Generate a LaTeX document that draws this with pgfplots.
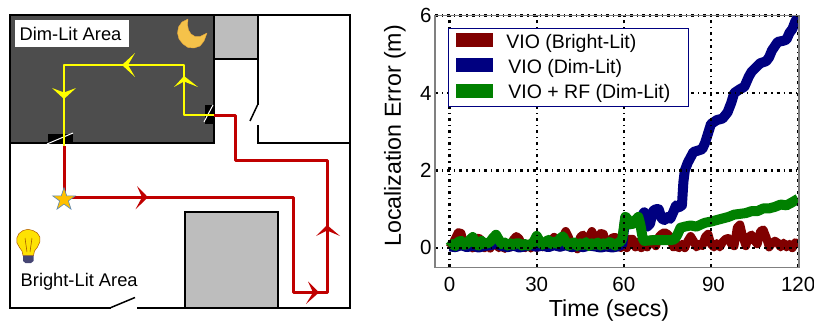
\documentclass[border=0pt]{standalone}
\usepackage{fontspec}
\setmainfont{Liberation Sans}
\usepackage{pgfplots}
\pgfplotsset{compat=1.18}
\definecolor{dimgray}{HTML}{4D4D4D}
\definecolor{boxgray}{HTML}{BDBDBD}
\definecolor{pathred}{HTML}{C00000}
\definecolor{pathyel}{HTML}{FFFF00}
\definecolor{cmaroon}{HTML}{800000}
\definecolor{cnavy}{HTML}{000080}
\definecolor{cgreen}{HTML}{008000}
\definecolor{moonfill}{HTML}{F5C24A}
\definecolor{moonedge}{HTML}{E9A93C}
\definecolor{starfill}{HTML}{FFC000}
\definecolor{staredge}{HTML}{5B88B5}
\begin{document}
\begin{tikzpicture}
\useasboundingbox (0,0) rectangle (814pt,321pt);
\begin{axis}[name=base,at={(0,0)},anchor=south west,scale only axis,width=814pt,height=321pt,
  xmin=0,xmax=814,ymin=0,ymax=321,y dir=reverse,hide axis,clip=false]
% rooms
\addplot[fill=dimgray,draw=black,line width=2pt] coordinates {(10,15)(213.5,15)(213.5,143)(10,143)} --cycle;
\addplot[fill=boxgray,draw=black,line width=2pt] coordinates {(213.5,15)(257.5,15)(257.5,59)(213.5,59)} --cycle;
\addplot[fill=boxgray,draw=black,line width=2pt] coordinates {(185,212)(278,212)(278,307.5)(185,307.5)} --cycle;
% walls
\addplot[black,line width=2pt] coordinates {(10,143)(10,307.5)(111,307.5)};
\addplot[black,line width=1.5pt] coordinates {(111,307.5)(135,297.5)};
\addplot[black,line width=2pt] coordinates {(137,307.5)(350,307.5)(350,15)(257.5,15)};
\addplot[black,line width=2pt] coordinates {(257.5,59)(257.5,105)};
\addplot[black,line width=1.5pt] coordinates {(257.5,105)(250,121)};
\addplot[black,line width=2pt] coordinates {(257.5,125)(257.5,143)(350,143)};
% doors
\addplot[fill=black,draw=none] coordinates {(48,133.5)(73,133.5)(73,143)(48,143)} --cycle;
\addplot[fill=black,draw=none] coordinates {(204.5,105)(215,105)(215,124)(204.5,124)} --cycle;
\addplot[white,line width=1pt] coordinates {(47,144)(73,133)};
\addplot[white,line width=1pt] coordinates {(204,122)(213,105)};
% red path
\addplot[pathred,line width=3pt,line join=round] coordinates {(214,115)(235,115)(235,160.5)(327,160.5)(327,292.5)(293,292.5)(293,197.3)(64,197.3)(64,146)};
% yellow path
\addplot[pathyel,line width=2.8pt,line join=round] coordinates {(214,115)(184,115)(184,65)(64,65)(64,146)};
% arrow heads
\addplot[fill=pathyel,draw=none] coordinates {(122,65)(135,53)(128,65)(135,77)} --cycle;
\addplot[fill=pathyel,draw=none] coordinates {(184,76)(174,87)(184,81.5)(198,87)} --cycle;
\addplot[fill=pathyel,draw=none] coordinates {(64,99)(52,88)(64,92.5)(76,88)} --cycle;
\addplot[fill=pathred,draw=none] coordinates {(148,197.3)(137,186)(142,197.3)(135.5,209.3)} --cycle;
\addplot[fill=pathred,draw=none] coordinates {(327,225)(316,236)(327,230.5)(340,236)} --cycle;
\addplot[fill=pathred,draw=none] coordinates {(319,292.5)(308,281.5)(313,292.5)(306,304)} --cycle;
% start star
\addplot[fill=starfill,draw=staredge,line width=0.6pt] coordinates {(64,187.5)(66.7,195.8)(75.4,195.8)(68.4,200.9)(71.05,209.2)(64,204.1)(56.95,209.2)(59.6,200.9)(52.6,195.8)(61.3,195.8)} --cycle;
% moon
\addplot[fill=moonfill,draw=moonedge,line width=0.4pt,line join=round] coordinates {(188,19)(182,22)(178.5,27)(177.5,33)(179,39)(183,44)(188,47.5)(194,48)(200,46)(204,41)(207,33)(200,36.5)(195,36.5)(191,34)(188.5,30)(187.5,25)} --cycle;
% bulb
\addplot[fill=yellow!85!orange,draw=orange!70!black,line width=0.5pt,line join=round] coordinates {(28,229.3)(23,230.5)(19,233.5)(16.8,238)(17,243)(19.5,247.5)(22,251)(23,255.5)(33.5,255.5)(34.5,251)(37.5,247)(39.8,242)(39.8,237)(37.3,233)(33,230.5)} --cycle;
\addplot[orange!60!black,line width=0.5pt] coordinates {(25,238)(27,252)};
\addplot[orange!60!black,line width=0.5pt] coordinates {(32,238)(30,252)};
\addplot[fill=black!60!blue!45!gray,draw=none] coordinates {(23,255.5)(33.5,255.5)(33.5,261)(31,263)(25.5,263)(23,261)} --cycle;
% labels
\addplot[fill=white,draw=none] coordinates {(14.5,20)(128.5,20)(128.5,47.5)(14.5,47.5)} --cycle;
\node[anchor=base west,inner sep=0pt,font=\fontsize{18.3}{20}\selectfont] at (axis cs:19.5,40.5) {Dim-Lit Area};
\node[anchor=base west,inner sep=0pt,font=\fontsize{18.3}{20}\selectfont] at (axis cs:20.5,286) {Bright-Lit Area};
\end{axis}
\begin{axis}[at={(435pt,53.7pt)},anchor=south west,scale only axis,width=364pt,height=251.8pt,
  xmin=-5,xmax=120.3,ymin=-0.5,ymax=6,
  xtick={0,30,60,90,120},ytick={0,2,4,6},
  xticklabels={0,30,60,\hspace{5pt}90,120\hspace{10pt}},
  /pgf/number format/assume math mode=true,
  ticklabel style={font=\fontsize{20.5}{22}\selectfont},
  xticklabel style={yshift=-6pt},
  xlabel={Time (secs)},ylabel={Localization Error (m)},
  label style={font=\fontsize{23.2}{25}\selectfont},
  xlabel style={at={(axis description cs:0.478,-0.172)},anchor=center},
  ylabel style={at={(axis description cs:-0.11,0.522)},anchor=center},
  major tick length=0pt,
  axis on top,
  axis line style={black!50,line width=1.1pt},
  grid=major,
  major grid style={black,line width=2.2pt,dash pattern=on 3pt off 4pt on 1.2pt off 4pt},
  legend style={at={(0.0357,0.952)},anchor=north west,draw=cnavy,line width=0.8pt,fill=white,
    font=\fontsize{19.5}{21}\selectfont,row sep=5.5pt,inner xsep=1pt,inner ysep=4.5pt},
  legend cell align=left,
  legend image code/.code={\draw[#1,line cap=butt,line width=14pt] (0pt,2pt) -- (37pt,2pt);},
]
\addplot[cmaroon,line width=8.5pt,line join=round] coordinates {
(0,0)(1,.1)(2,.25)(3,.4)(4,.38)(5,.1)(6,0)(7,.12)(8,-.01)(9,.05)(10,.26)(11,.2)(12,0)(13,.08)(14,-.01)(15,.15)(16,.1)(17,0)(18,.07)(19,-.02)(20,.1)(21,.02)(22,.22)(23,.3)(24,.24)(25,.05)(26,0)(27,.1)(28,-.01)(29,.08)(30,0)(31,.12)(32,.02)(33,.15)(34,.02)(35,.18)(36,.28)(37,.1)(38,.02)(39,.28)(40,.43)(41,.28)(42,0)(43,.1)(44,-.03)(45,.28)(46,.34)(47,.1)(48,.28)(49,.43)(50,.28)(51,.1)(52,.38)(53,.36)(54,.05)(55,0)(56,.26)(57,.28)(58,.06)(59,0)(60,.1)
(61,0)(62,.23)(63,.23)(64,.02)(65,.15)(66,0)(67,.18)(68,.02)(69,.18)(70,.23)(71,.05)(72,.28)(73,.36)(74,.4)(75,.36)(76,.28)(77,.02)(78,.05)(79,0)(80,.1)(81,0)(82,.18)(83,.3)(84,.18)(85,.02)(86,.1)(87,.05)(88,.28)(89,.36)(90,.1)(91,.02)(92,.12)(93,.02)(94,.15)(95,.23)(96,.25)(97,.1)(98,.05)(99,.53)(100,.6)(101,.28)(102,.05)(103,.28)(104,.34)(105,.18)(106,.1)(107,.43)(108,.47)(109,.28)(110,.02)(111,.12)(112,.18)(113,.13)(114,.02)(115,.13)(116,.02)(117,.1)(118,0)(119,.14)(120,.1)};
\addlegendentry{\hspace{4pt}VIO (Bright-Lit)}
\addplot[cnavy,line width=10pt,line join=round] coordinates {
(0,.04)(2,.02)(4,.07)(6,.02)(8,.06)(10,.01)(12,.05)(14,.07)(16,.11)(18,.05)(20,.02)(22,.06)(24,.01)(26,.04)(28,.07)(30,.03)(32,.06)(34,.02)(36,.07)(38,.03)(40,.07)(42,.02)(44,.05)(46,.02)(48,.06)(50,.04)(52,.01)(54,.04)(56,.01)(58,.04)(59.5,.1)
(60.5,.78)(62,.6)(64,.7)(66,.8)(67,.92)(68,.55)(69,.62)(70,.95)(71,1)(72,1)(73,.76)(74,.72)(75,.8)(76,.75)(77,.92)(78,1.1)(79,1.05)(80,1.1)(80.5,1.7)(81,2)(82,2.2)(84,2.48)(85,2.5)(87,2.55)(88,2.72)(89,2.96)(90,3.2)(92,3.3)(94,3.34)(95.7,3.5)(97,3.75)(98,4)(100,4.1)(101.5,4.16)(103,4.42)(104,4.55)(106,4.7)(107,4.77)(109,4.82)(110,4.92)(111,5.1)(113,5.32)(115,5.35)(116,5.38)(117,5.55)(118,5.65)(119,5.84)(120,5.98)};
\addlegendentry{\hspace{6pt}VIO (Dim-Lit)}
\addplot[cgreen,line width=10pt,line join=round] coordinates {
(0,.02)(1,.1)(2,.05)(3,.16)(4,.18)(5,.08)(6,.1)(7,.21)(8,.28)(9,.1)(10,.06)(11,.18)(12,.1)(13,.12)(14,.16)(15,.26)(16,.34)(17,.21)(18,.1)(19,.14)(20,.06)(21,.12)(22,.08)(23,.12)(24,.12)(25,.06)(26,.1)(27,.06)(28,.1)(29,.16)(30,.31)(31,.18)(32,.08)(33,.14)(34,.21)(35,.1)(36,.16)(37,.1)(38,.24)(39,.3)(40,.16)(41,.06)(42,.12)(43,.14)(44,.05)(45,.12)(46,.08)(47,.15)(48,.05)(49,.12)(50,.08)(51,.14)(52,.06)(53,.12)(54,.08)(55,.15)(56,.12)(57,.06)(58,.13)(59,.17)(59.5,.25)
(60.5,.8)(61,.78)(62,.62)(63,.62)(64,.72)(65,.8)(65.7,.6)(66.5,.25)(67,.18)(70,.2)(73,.2)(76,.2)(77.5,.22)(78.5,.35)(79.5,.52)(81,.55)(83,.58)(85,.55)(87,.62)(88,.65)(90,.68)(92,.72)(94,.76)(96,.8)(98,.86)(100,.88)(102,.9)(104,.95)(106,.95)(108,1.02)(110,1.02)(112,1.06)(114,1.12)(116,1.1)(118,1.18)(120,1.27)};
\addlegendentry{\hspace{6pt}VIO + RF (Dim-Lit)\rule[-8pt]{15pt}{0pt}}
\end{axis}
\end{tikzpicture}
\end{document}
